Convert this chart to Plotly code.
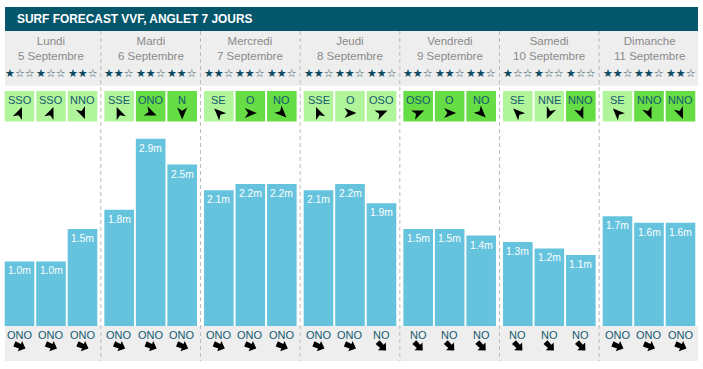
import math
import plotly.graph_objects as go

# ---------------- data ----------------
days = ["Lundi", "Mardi", "Mercredi", "Jeudi", "Vendredi", "Samedi", "Dimanche"]
dates = ["5 Septembre", "6 Septembre", "7 Septembre", "8 Septembre",
         "9 Septembre", "10 Septembre", "11 Septembre"]
wave_height = [1.0, 1.0, 1.5, 1.8, 2.9, 2.5, 2.1, 2.2, 2.2, 2.1, 2.2, 1.9,
               1.5, 1.5, 1.4, 1.3, 1.2, 1.1, 1.7, 1.6, 1.6]
stars = [1, 1, 2, 2, 2, 2, 2, 2, 2, 2, 2, 2, 2, 2, 2, 1, 1, 1, 2, 2, 2]
wind_dir = ["SSO", "SSO", "NNO", "SSE", "ONO", "N", "SE", "O", "NO",
            "SSE", "O", "OSO", "OSO", "O", "NO", "SE", "NNE", "NNO",
            "SE", "NNO", "NNO"]
wind_offshore = [0, 0, 0, 0, 1, 1, 0, 1, 1, 0, 0, 0, 1, 1, 1, 0, 0, 1, 0, 1, 1]
swell_dir = ["ONO", "ONO", "ONO", "ONO", "ONO", "ONO", "ONO", "ONO", "ONO",
             "ONO", "ONO", "NO", "NO", "NO", "NO", "NO", "NO", "NO",
             "ONO", "ONO", "ONO"]
title = "SURF FORECAST VVF, ANGLET 7 JOURS"

COMPASS = {"N": 0, "NNE": 22.5, "NE": 45, "ENE": 67.5, "E": 90, "ESE": 112.5,
           "SE": 135, "SSE": 157.5, "S": 180, "SSO": 202.5, "SO": 225,
           "OSO": 247.5, "O": 270, "ONO": 292.5, "NO": 315, "NNO": 337.5}

# ---------------- geometry ----------------
W, H = 703, 369
SLOT_PX = 31.5       # pixel distance between bars inside a day
X0_PX = 19.5         # centre of first bar
DAY = 3.164          # day width in slot units
BASE_PX = 326        # pixel row of zero height
PX_PER_M = 64.6
BAR_W = 0.94


def xd(px):
    return (px - X0_PX) / SLOT_PX


def yd(py):
    return (BASE_PX - py) / PX_PER_M


def xp(xdata):
    return X0_PX + xdata * SLOT_PX


# arrow outlines (pixel offsets, tip pointing up)
NAV_ARROW = [(0, -6.5), (5, 5.5), (0, 2.3), (-5, 5.5)]
FAT_ARROW = [(0, -6.5), (5.6, -0.5), (2.4, -0.5), (2.8, 5.5), (-2.8, 5.5),
             (-2.4, -0.5), (-5.6, -0.5)]


def arrow_path(cx_px, cy_px, angle_deg, outline):
    a = math.radians(angle_deg)
    ca, sa = math.cos(a), math.sin(a)
    pts = []
    for dx, dy in outline:
        rx = dx * ca - dy * sa
        ry = dx * sa + dy * ca
        pts.append("%.4f,%.4f" % (xd(cx_px + rx), yd(cy_px + ry)))
    return "M" + "L".join(pts) + "Z"


n_per_day = 3
xpos = [d * DAY + s for d in range(len(days)) for s in range(n_per_day)]

TEAL = "#04566b"
GREY_BG = "#eeeeee"
LIGHT_G = "#b1f59b"
DARK_G = "#66dd44"
BAR_C = "#65c3de"
LBL_C = "#14596f"

fig = go.Figure()
fig.add_trace(go.Bar(x=xpos, y=wave_height, width=BAR_W,
                     marker=dict(color=BAR_C, line=dict(width=0)),
                     hoverinfo="skip"))

shapes = []
shapes.append(dict(type="rect", xref="x", yref="y", x0=xd(5), x1=xd(698),
                   y0=yd(31), y1=yd(7), fillcolor=TEAL, line=dict(width=0),
                   layer="below"))
shapes.append(dict(type="rect", xref="x", yref="y", x0=xd(5), x1=xd(698),
                   y0=yd(86), y1=yd(31), fillcolor=GREY_BG, line=dict(width=0),
                   layer="below"))
shapes.append(dict(type="rect", xref="x", yref="y", x0=xd(5), x1=xd(698),
                   y0=yd(361), y1=yd(326), fillcolor=GREY_BG, line=dict(width=0),
                   layer="below"))
for d in range(len(days) - 1):
    xm = (d * DAY + 2 + (d + 1) * DAY) / 2
    shapes.append(dict(type="line", xref="x", yref="y", x0=xm, x1=xm,
                       y0=yd(31), y1=yd(361),
                       line=dict(color="#bbbbbb", width=1, dash="4px,3px"),
                       layer="below"))
for i, (x, g) in enumerate(zip(xpos, wind_offshore)):
    shapes.append(dict(type="rect", xref="x", yref="y",
                       x0=x - BAR_W / 2, x1=x + BAR_W / 2,
                       y0=yd(121.5), y1=yd(91),
                       fillcolor=DARK_G if g else LIGHT_G, line=dict(width=0),
                       layer="below"))
    tip = (COMPASS[wind_dir[i]] + 180) % 360
    shapes.append(dict(type="path", xref="x", yref="y",
                       path=arrow_path(xp(x), 113, tip, NAV_ARROW),
                       fillcolor="black", line=dict(width=0), layer="above"))
    tip = (COMPASS[swell_dir[i]] + 180) % 360
    shapes.append(dict(type="path", xref="x", yref="y",
                       path=arrow_path(xp(x), 346, tip, FAT_ARROW),
                       fillcolor="black", line=dict(width=0), layer="above"))

ann = []
ann.append(dict(x=xd(15), y=yd(18.5), xref="x", yref="y", text="<b>%s</b>" % title,
                showarrow=False, xanchor="left", yanchor="middle",
                font=dict(family="Liberation Sans, Arial", size=11.9, color="white")))
for d, (dn, dt) in enumerate(zip(days, dates)):
    cx = d * DAY + 1
    ann.append(dict(x=cx, y=yd(48.3), xref="x", yref="y", text=dn + "<br>" + dt,
                    showarrow=False, borderpad=0,
                    font=dict(family="Liberation Sans, Arial", size=11.5, color="#8a8a8a")))

for i, x in enumerate(xpos):
    s = stars[i]
    txt = ("<span style='color:#0b4a60'>" + "★" * s + "</span>"
           + "<span style='color:#2f5563'>" + "☆" * (3 - s) + "</span>")
    ann.append(dict(x=x, y=yd(73.3), xref="x", yref="y", text=txt, showarrow=False,
                    font=dict(family="DejaVu Sans", size=11)))
    ann.append(dict(x=x, y=yd(99.5), xref="x", yref="y", text=wind_dir[i],
                    showarrow=False, borderpad=0,
                    font=dict(family="Liberation Sans, Arial", size=11, color=LBL_C)))
    ann.append(dict(x=x, y=wave_height[i], xref="x", yref="y",
                    text="%.1fm" % wave_height[i], showarrow=False, yshift=-9.5,
                    font=dict(family="Liberation Sans, Arial", size=10.3, color="white")))
    ann.append(dict(x=x, y=yd(334.5), xref="x", yref="y", text=swell_dir[i],
                    showarrow=False, borderpad=0,
                    font=dict(family="Liberation Sans, Arial", size=11, color=LBL_C)))

fig.update_layout(
    width=W, height=H, margin=dict(l=0, r=0, t=0, b=0),
    paper_bgcolor="white", plot_bgcolor="white",
    showlegend=False, hovermode=False,
    shapes=shapes, annotations=ann,
    xaxis=dict(range=[xd(0), xd(W)], visible=False, fixedrange=True),
    yaxis=dict(range=[yd(H), yd(0)], visible=False, fixedrange=True),
)

fig.write_html("out.html", config={"displayModeBar": False},
               post_script="document.body.style.margin='0';"
                           "document.body.style.overflow='hidden';")
